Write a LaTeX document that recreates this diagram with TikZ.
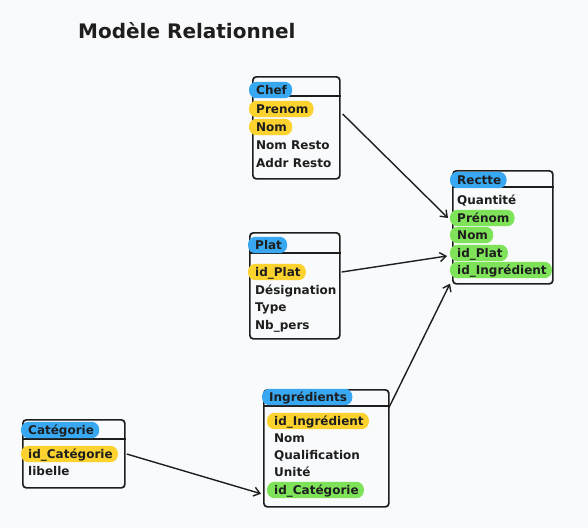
\documentclass[tikz,border=0pt]{standalone}
\usepackage{fontspec}
\setmainfont{DejaVu Sans}
\usetikzlibrary{arrows.meta,calc}
\pgfdeclarelayer{bglayer}
\pgfdeclarelayer{boxlayer}
\pgfdeclarelayer{hllayer}
\pgfsetlayers{bglayer,boxlayer,hllayer,main}
\definecolor{ink}{HTML}{1E1E1E}
\definecolor{bgc}{HTML}{F9FAFB}
\definecolor{hlblue}{HTML}{38A8F2}
\definecolor{hlyellow}{HTML}{FCD22E}
\definecolor{hlgreen}{HTML}{7FE35A}
\tikzset{
  tbl/.style={draw=ink, line width=1.7pt, rounded corners=3.5pt, inner sep=0pt, anchor=north west},
  field/.style={anchor=base west, inner sep=0pt, text height=9pt, text depth=1pt,
    font=\fontsize{12}{14}\selectfont\bfseries, text=ink},
  sep/.style={draw=ink, line width=1.5pt},
  rel/.style={draw=ink, line width=1.4pt, -{Straight Barb[length=6pt,width=9pt]}},
}
\newcommand{\hlmark}[2]{\begin{pgfonlayer}{hllayer}\fill[#1, rounded corners=7.5pt] ($(#2.south west)+(-7,3)$) rectangle ($(#2.north east)+(5,-3)$);\end{pgfonlayer}}
\begin{document}
\begin{tikzpicture}[x=1pt,y=-1pt]
\begin{pgfonlayer}{bglayer}
\fill[bgc] (0,0) rectangle (588,528);
\end{pgfonlayer}
\useasboundingbox (0,0) rectangle (588,528);

\node[anchor=base west, inner sep=0pt, font=\fontsize{20}{24}\selectfont\bfseries, text=ink] (title) at (78,38) {Modèle Relationnel};

\begin{pgfonlayer}{boxlayer}
\node[tbl, minimum width=87pt, minimum height=102pt] (chef) at (252,76) {};
\node[tbl, minimum width=90pt, minimum height=106pt] (plat) at (249,232) {};
\node[tbl, minimum width=100pt, minimum height=113pt] (rectte) at (452,170) {};
\node[tbl, minimum width=125pt, minimum height=117pt] (ingr) at (263,389) {};
\node[tbl, minimum width=102pt, minimum height=68pt] (cat) at (22,419) {};
\draw[sep] (chef.west |- 0,96) -- (chef.east |- 0,96);
\draw[sep] (plat.west |- 0,253) -- (plat.east |- 0,253);
\draw[sep] (rectte.west |- 0,187) -- (rectte.east |- 0,187);
\draw[sep] (ingr.west |- 0,406) -- (ingr.east |- 0,406);
\draw[sep] (cat.west |- 0,439) -- (cat.east |- 0,439);
\end{pgfonlayer}

% Chef
\node[field] (chefT) at (256,94) {Chef};
\node[field] (chef1) at (256,113) {Prenom};
\node[field] (chef2) at (256,131) {Nom};
\node[field] (chef3) at (256,149) {Nom Resto};
\node[field] (chef4) at (256,167) {Addr Resto};
\hlmark{hlblue}{chefT}
\hlmark{hlyellow}{chef1}
\hlmark{hlyellow}{chef2}

% Plat
\node[field] (platT) at (255,249) {Plat};
\node[field] (plat1) at (255,276) {id\_Plat};
\node[field] (plat2) at (255,294) {Désignation};
\node[field] (plat3) at (255,311) {Type};
\node[field] (plat4) at (255,329) {Nb\_pers};
\hlmark{hlblue}{platT}
\hlmark{hlyellow}{plat1}

% Rectte
\node[field] (recT) at (457,184) {Rectte};
\node[field] (rec1) at (457,204) {Quantité};
\node[field] (rec2) at (457,222) {Prénom};
\node[field] (rec3) at (457,239) {Nom};
\node[field] (rec4) at (457,257) {id\_Plat};
\node[field] (rec5) at (457,274) {id\_Ingrédient};
\hlmark{hlblue}{recT}
\hlmark{hlgreen}{rec2}
\hlmark{hlgreen}{rec3}
\hlmark{hlgreen}{rec4}
\hlmark{hlgreen}{rec5}

% Ingredients
\node[field] (ingT) at (269,401) {Ingrédients};
\node[field] (ing1) at (274,425) {id\_Ingrédient};
\node[field] (ing2) at (274,442) {Nom};
\node[field] (ing3) at (274,459) {Qualification};
\node[field] (ing4) at (274,476) {Unité};
\node[field] (ing5) at (274,494) {id\_Catégorie};
\hlmark{hlblue}{ingT}
\hlmark{hlyellow}{ing1}
\hlmark{hlgreen}{ing5}

% Categorie
\node[field] (catT) at (28,434) {Catégorie};
\node[field] (cat1) at (28,458) {id\_Catégorie};
\node[field] (cat2) at (28,475) {libelle};
\hlmark{hlblue}{catT}
\hlmark{hlyellow}{cat1}

% relations
\draw[rel] ($(chef.north east)+(2,38)$) -- ($(rectte.north west)+(-4,48)$);
\draw[rel] ($(plat.north east)+(1,40)$) -- ($(rectte.north west)+(-5,86)$);
\draw[rel] ($(ingr.north east)+(-1,19)$) -- ($(rectte.south west)+(-2,-1)$);
\draw[rel] ($(cat.north east)+(1,35)$) -- ($(ingr.south west)+(-2,-14)$);
\end{tikzpicture}
\end{document}
